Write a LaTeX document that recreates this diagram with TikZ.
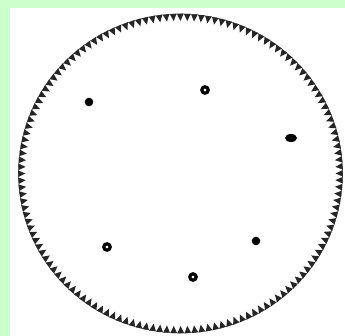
\documentclass[tikz,border=0pt]{standalone}
\definecolor{bgreen}{HTML}{CCFFCC}
\begin{document}
\begin{tikzpicture}[x=1pt,y=-1pt,
  ringdot/.style={draw=black,line width=3.2pt,fill=none},
  fulldot/.style={fill=black}]
\useasboundingbox (0,0) rectangle (345,336);
\fill[bgreen] (0,0) rectangle (345,336);
\fill[white] (10,8) rectangle (345,336);
% rim
\def\cx{180.5}\def\cy{173.5}\def\ra{162}\def\rb{159.5}
\draw[line width=0.6pt,black!60] (\cx,\cy) ellipse [x radius=\ra, y radius=\rb];
\foreach \t in {0,2.5,...,357.5}{
  \fill[black!85] ({\cx+\ra*cos(\t-1.25)},{\cy+\rb*sin(\t-1.25)})
    -- ({\cx+(\ra+0.5)*cos(\t+1.1)},{\cy+(\rb+0.5)*sin(\t+1.1)})
    -- ({\cx+(\ra-7)*cos(\t)},{\cy+(\rb-7)*sin(\t)}) -- cycle;
}
% dots
\fill[fulldot] (89,102) circle [radius=4.3];
\draw[ringdot] (205,90) circle [radius=3.2];
\fill[fulldot] (291,138) ellipse [x radius=6, y radius=4];
\fill[fulldot] (256,241) circle [radius=4.3];
\draw[ringdot] (107,247) circle [radius=3.2];
\draw[ringdot] (193,277) circle [radius=3.2];
\end{tikzpicture}
\end{document}
